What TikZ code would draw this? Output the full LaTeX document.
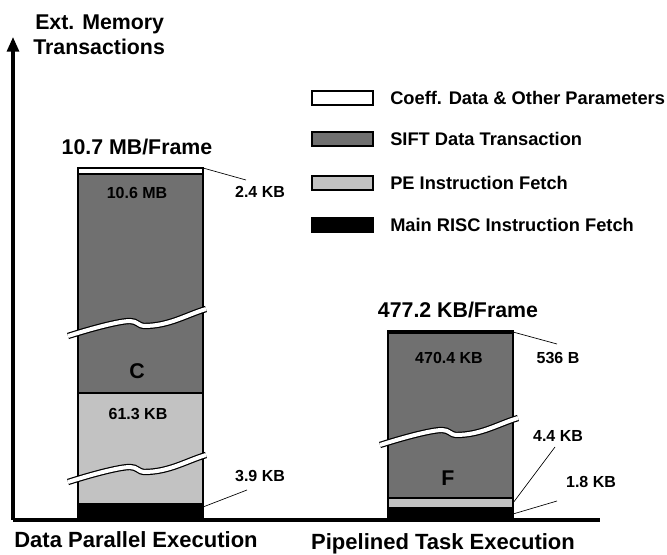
\documentclass[tikz,border=0pt]{standalone}
\usepackage{fontspec}
\setmainfont{Liberation Sans}
\usetikzlibrary{arrows.meta}
\definecolor{sift}{RGB}{112,112,112}
\definecolor{pefetch}{RGB}{194,194,194}

\begin{document}
\begin{tikzpicture}[x=0.75pt,y=-0.75pt,
  big/.style={font=\fontsize{16}{19}\selectfont\bfseries, inner sep=0},
  axislabel/.style={font=\fontsize{16.5}{20}\selectfont\bfseries, inner sep=0, anchor=base},
  val/.style={font=\fontsize{12}{14}\selectfont\bfseries, inner sep=0},
  legtext/.style={font=\fontsize{13.7}{16}\selectfont\bfseries, inner sep=0, anchor=west},
  barline/.style={draw=black, line width=1.4pt},
  leader/.style={draw=black, line width=0.5pt},
  brk/.style={line width=0.9pt, double=white, double distance=3pt},
  legbox/.style={draw=black, line width=1.2pt, minimum width=45.75pt, minimum height=10.5pt, inner sep=0},
]
\useasboundingbox (0,0) rectangle (667,555);

% axis title
\node[big, anchor=base west] (t1) at (35,30) {Ext. Memory};
\node[big, anchor=base west] (t2) at (33,55) {Transactions};

% ---------- data parallel bar ----------
\fill[black]   (78,503) rectangle (203,517);
\fill[pefetch] (78,393) rectangle (203,503);
\fill[sift]    (78,174) rectangle (203,393);
\fill[white]   (78,168) rectangle (203,174);
\draw[line width=1pt] (78,174) -- (203,174);
\draw[line width=1pt] (78,393) -- (203,393);
\draw[barline] (78,517) rectangle (203,168);

% breaks
\def\breakpath{++(0,0) .. controls ++(25,-8) and ++(-10,0) .. ++(62,-15)
  .. controls ++(7,0) and ++(-5,0) .. ++(14,5)
  .. controls ++(25,0) and ++(-20,6) .. ++(62,-17)}
\draw[brk] (68,336) \breakpath;
\draw[brk] (68,482) \breakpath;

\node[big] (dtot) at (137,147) {10.7 MB/Frame};
\node[val] (d106) at (137,193) {10.6 MB};
\node[big] (dC)   at (137,371) {C};
\node[val] (d613) at (138,414) {61.3 KB};
\node[val] (d24)  at (260,192) {2.4 KB};
\node[val] (d39)  at (260,476) {3.9 KB};

\coordinate (dtopr) at (203,168);
\coordinate (dbotr) at (203,507);
\coordinate (d24e) at (246,180);
\coordinate (d39e) at (247,490);
\draw[leader] (dtopr) -- (d24e);
\draw[leader] (dbotr) -- (d39e);

% ---------- pipelined bar ----------
\fill[black]   (388,508) rectangle (513,517);
\fill[pefetch] (388,498) rectangle (513,508);
\fill[sift]    (388,333) rectangle (513,498);
\draw[line width=1pt] (388,498) -- (513,498);
\draw[line width=1pt] (388,508) -- (513,508);
\draw[barline] (388,517) rectangle (513,333);
\draw[line width=3pt] (387,332.5) -- (514,332.5);

\draw[brk] (380,445) \breakpath;

\node[big] (ptot) at (458,310) {477.2 KB/Frame};
\node[val] (p4704) at (449,358) {470.4 KB};
\node[big] (pF)    at (448,478) {F};
\node[val] (p536)  at (558,358) {536 B};
\node[val] (p44)   at (558,436) {4.4 KB};
\node[val] (p18)   at (591,482) {1.8 KB};

\coordinate (ptopr) at (513,332);
\coordinate (pper)  at (513,503);
\coordinate (prisc) at (513,514);
\coordinate (p536e) at (557,344);
\coordinate (p44e)  at (555,447);
\coordinate (p18e)  at (557,501);
\draw[leader] (ptopr) -- (p536e);
\draw[leader] (pper) -- (p44e);
\draw[leader] (prisc) -- (p18e);

% ---------- axes ----------
\coordinate (origin) at (13,519.5);
\coordinate (ytip) at (13,37);
\coordinate (xend) at (600,519.5);
\draw[line width=3pt] (origin) -- (xend);
\draw[line width=2.3pt, -{Triangle[length=11pt,width=9pt]}] (origin) -- (ytip);

\node[axislabel] (lx1) at (136,547.5) {Data Parallel Execution};
\node[axislabel] (lx2) at (443,549.5) {Pipelined Task Execution};

% ---------- legend ----------
\node[legbox, fill=white]   (k1) at (342.5,98) {};
\node[legbox, fill=sift]    (k2) at (342.5,139) {};
\node[legbox, fill=pefetch] (k3) at (342.5,183) {};
\node[legbox, fill=black]   (k4) at (342.5,225) {};
\node[legtext] (k1t) at (390,98)  {Coeff. Data \& Other Parameters};
\node[legtext] (k2t) at (390,139) {SIFT Data Transaction};
\node[legtext] (k3t) at (390,183) {PE Instruction Fetch};
\node[legtext] (k4t) at (390,225) {Main RISC Instruction Fetch};
\end{tikzpicture}
\end{document}
